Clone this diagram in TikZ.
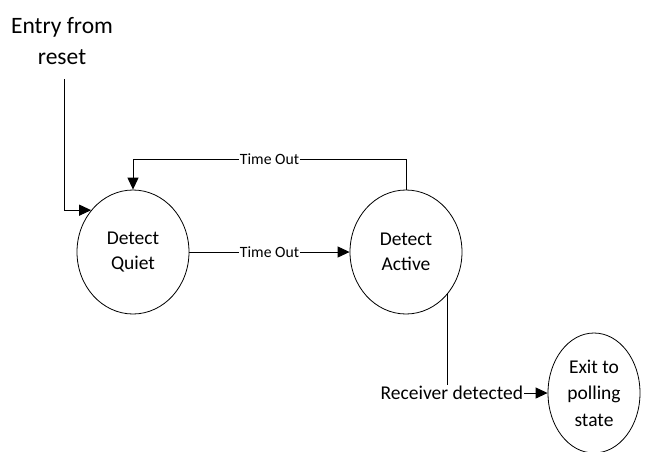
\documentclass[tikz,border=0pt]{standalone}
\usepackage{fontspec}
\setmainfont{Carlito}
\usetikzlibrary{shapes.geometric,arrows.meta}

\begin{document}
\begin{tikzpicture}[x=1pt,y=-1pt,
  state/.style={ellipse, draw, line width=0.8pt, inner sep=0pt, align=center,
    minimum width=112pt, minimum height=124pt,
    font=\fontsize{19.5}{25}\selectfont},
  edge/.style={line width=1pt},
  arr/.style={-{Triangle[length=12pt,width=11pt]}},
  smalllbl/.style={fill=white, inner sep=1pt, font=\fontsize{15.7}{18}\selectfont},
  biglbl/.style={fill=white, inner sep=1pt, font=\fontsize{19.5}{24}\selectfont}]
\useasboundingbox (0,0) rectangle (648,451);

% states
\node[state] (quiet)  at (133,252) {Detect\\Quiet};
\node[state] (active) at (406,252) {Detect\\Active};
\node[state, minimum width=92pt, minimum height=120pt,
      font=\fontsize{19.5}{26.5}\selectfont] (exit) at (594,393) {Exit to\\polling\\state};

% entry point
\node[align=center, inner sep=0pt, font=\fontsize{23.5}{31}\selectfont] (entry) at (62,41) {Entry from\\reset};
\coordinate (entrystart) at (64,79);
\draw[edge,arr] (entrystart) |- (quiet.135);

% transitions
\draw[edge,arr] (quiet) -- node[smalllbl] {Time Out} (active);
\draw[edge,arr] (active.north) -- ++(0,-30) coordinate (loopcorner)
  -| node[smalllbl, pos=0.25] {Time Out} (quiet.north);
\draw[edge,arr] (active.-45) |- node[biglbl, pos=0.5, xshift=4pt] {Receiver detected} (exit.west);
\end{tikzpicture}
\end{document}
